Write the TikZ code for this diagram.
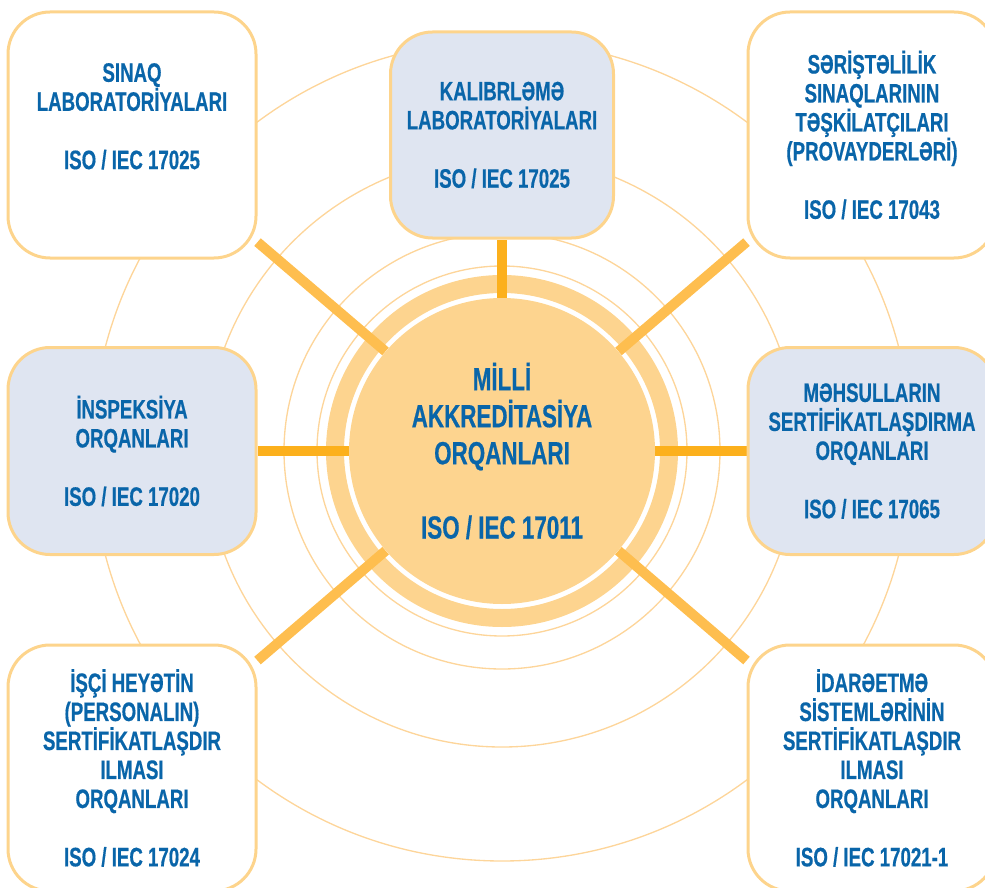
\documentclass[tikz,border=0pt]{standalone}
\usepackage{fontspec}
\newfontfamily\lbl{Liberation Sans}[FakeStretch=0.70,FakeBold=0.5]
\definecolor{isoblue}{HTML}{0965A9}
\definecolor{cardline}{HTML}{FDD48C}
\definecolor{cardblue}{HTML}{DFE5F1}
\definecolor{diskorange}{HTML}{FDD48F}
\definecolor{orbitline}{HTML}{FDD59A}
\definecolor{spokeorange}{HTML}{FCB01C}
\definecolor{spokelight}{HTML}{FEBE4F}
\pgfdeclarelayer{background}
\pgfsetlayers{background,main}
\tikzstyle{card}=[draw=cardline,line width=2.25pt,rounded corners=31.5pt,fill=white,minimum width=186pt,minimum height=184.5pt,inner sep=0pt,align=center,text=isoblue,font=\lbl\bfseries\fontsize{20}{21.75}\selectfont]
\tikzstyle{bluecard}=[card,fill=cardblue]
\tikzstyle{hubdisk}=[circle,fill=diskorange,minimum size=229.5pt,inner sep=0pt,align=center,text=isoblue,font=\lbl\bfseries\fontsize{24}{27.75}\selectfont]
\tikzstyle{spoke} = [draw=spokeorange,line width=7.5pt]
\tikzstyle{dspoke} = [draw=spokelight,line width=7.5pt]
\tikzstyle{orbit} = [draw=orbitline,line width=1pt]

\begin{document}
\begin{tikzpicture}[x=0.75pt,y=-0.75pt]
    \useasboundingbox (0,0) rectangle (985,888);
    % First the seven boxes round the centre
    \node[card] (tl) at (132,135) {SINAQ\\LABORATORİYALARI\\[22pt]ISO / IEC 17025\\ \strut};
    \node[bluecard,minimum width=167.25pt,minimum height=154.5pt] (top) at (502,135) {KALIBRLƏMƏ\\LABORATORİYALARI\\[22pt]ISO / IEC 17025};
    \node[card] (tr) at (872,135) {SƏRİŞTƏLİLİK\\SINAQLARININ\\TƏŞKİLATÇILARI\\(PROVAYDERLƏRİ)\\[22pt]ISO / IEC 17043};
    \node[bluecard,minimum height=155.25pt] (ml) at (132,451) {İNSPEKSİYA\\ORQANLARI\\[22pt]ISO / IEC 17020};
    \node[bluecard,minimum height=155.25pt] (mr) at (872,451) {MƏHSULLARIN\\SERTİFİKATLAŞDIRMA\\ORQANLARI\\[22pt]ISO / IEC 17065};
    \node[card] (bl) at (132,768) {İŞÇİ HEYƏTİN\\(PERSONALIN)\\SERTİFİKATLAŞDIR\\ILMASI\\ORQANLARI\\[22pt]ISO / IEC 17024};
    \node[card] (br) at (872,768) {İDARƏETMƏ\\SİSTEMLƏRİNİN\\SERTİFİKATLAŞDIR\\ILMASI\\ORQANLARI\\[22pt]ISO / IEC 17021-1};

    % The centre disk
    \node[hubdisk] (hub) at (502,451) {MİLLİ\\AKKREDİTASİYA\\ORQANLARI\\[28pt]ISO / IEC 17011};

    \begin{pgfonlayer}{background}
        % Thin circles and the ring round the disk
        \foreach \r in {138.75,163.5,222,307.5}
            \path[orbit] (hub.center) circle[radius=\r pt];
        \path[draw=diskorange,line width=13.5pt] (hub.center) circle[radius=125.25pt];

        % Connect the disk with the boxes
        \foreach \dest in {top,ml,mr}
            \path[spoke] (hub) -- (\dest);
        \foreach \dest in {tl,tr,bl,br}
            \path[dspoke] (hub) -- (\dest);
    \end{pgfonlayer}
\end{tikzpicture}
\end{document}
